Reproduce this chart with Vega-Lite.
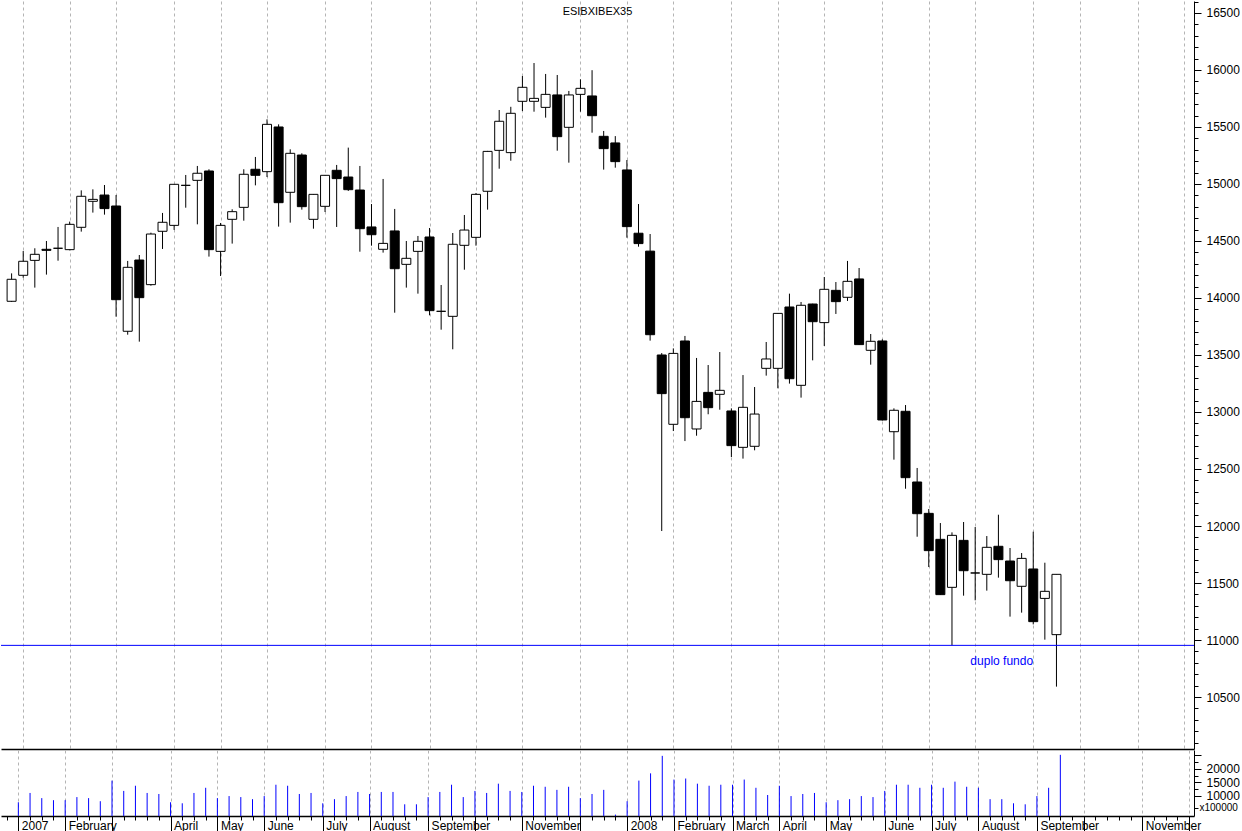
{
  "$schema": "https://vega.github.io/schema/vega-lite/v6.json",
  "background": "white",
  "padding": 0,
  "config": {
    "view": {"stroke": null},
    "concat": {"spacing": 0},
    "font": "Liberation Sans",
    "axis": {"labelFont": "Liberation Sans", "labelFontSize": 12, "labelColor": "black", "tickColor": "black", "domainColor": "black", "labelOverlap": false}
  },
  "datasets": {
    "weeks": [
      {"date": "2006/12/29", "open": 13971, "high": 14216, "low": 13965, "close": 14164, "volume": null},
      {"date": "2007/01/05", "open": 14199, "high": 14412, "low": 14178, "close": 14322, "volume": 7600},
      {"date": "2007/01/12", "open": 14330, "high": 14436, "low": 14091, "close": 14383, "volume": 11050},
      {"date": "2007/01/19", "open": 14427, "high": 14500, "low": 14205, "close": 14418, "volume": 9140},
      {"date": "2007/01/26", "open": 14436, "high": 14623, "low": 14327, "close": 14436, "volume": 8370},
      {"date": "2007/02/02", "open": 14424, "high": 14670, "low": 14418, "close": 14646, "volume": 8370},
      {"date": "2007/02/09", "open": 14620, "high": 14944, "low": 14582, "close": 14892, "volume": 9520},
      {"date": "2007/02/16", "open": 14848, "high": 14953, "low": 14749, "close": 14865, "volume": 9140},
      {"date": "2007/02/23", "open": 14903, "high": 14991, "low": 14731, "close": 14784, "volume": 7990},
      {"date": "2007/03/02", "open": 14807, "high": 14903, "low": 13836, "close": 13985, "volume": 15640},
      {"date": "2007/03/09", "open": 13708, "high": 14325, "low": 13678, "close": 14269, "volume": 11810},
      {"date": "2007/03/16", "open": 14333, "high": 14377, "low": 13617, "close": 14003, "volume": 13730},
      {"date": "2007/03/23", "open": 14117, "high": 14573, "low": 14108, "close": 14561, "volume": 11050},
      {"date": "2007/03/30", "open": 14585, "high": 14746, "low": 14430, "close": 14664, "volume": 10670},
      {"date": "2007/04/06", "open": 14637, "high": 15000, "low": 14597, "close": 14997, "volume": 7600},
      {"date": "2007/04/13", "open": 14988, "high": 15079, "low": 14792, "close": 14988, "volume": 7220},
      {"date": "2007/04/20", "open": 15032, "high": 15158, "low": 14646, "close": 15094, "volume": 11050},
      {"date": "2007/04/27", "open": 15114, "high": 15129, "low": 14363, "close": 14424, "volume": 12970},
      {"date": "2007/05/04", "open": 14409, "high": 14658, "low": 14193, "close": 14637, "volume": 9140},
      {"date": "2007/05/11", "open": 14690, "high": 14778, "low": 14477, "close": 14757, "volume": 9900},
      {"date": "2007/05/18", "open": 14795, "high": 15129, "low": 14678, "close": 15085, "volume": 9520},
      {"date": "2007/05/25", "open": 15129, "high": 15237, "low": 14988, "close": 15076, "volume": 8750},
      {"date": "2007/06/01", "open": 15108, "high": 15567, "low": 15061, "close": 15523, "volume": 9900},
      {"date": "2007/06/08", "open": 15500, "high": 15523, "low": 14626, "close": 14836, "volume": 14110},
      {"date": "2007/06/15", "open": 14927, "high": 15304, "low": 14661, "close": 15269, "volume": 13730},
      {"date": "2007/06/22", "open": 15254, "high": 15269, "low": 14775, "close": 14801, "volume": 10670},
      {"date": "2007/06/29", "open": 14690, "high": 14912, "low": 14608, "close": 14909, "volume": 11050},
      {"date": "2007/07/06", "open": 14804, "high": 15078, "low": 14754, "close": 15076, "volume": 7220},
      {"date": "2007/07/13", "open": 15120, "high": 15167, "low": 14623, "close": 15047, "volume": 8750},
      {"date": "2007/07/20", "open": 15061, "high": 15319, "low": 14939, "close": 14950, "volume": 9900},
      {"date": "2007/07/27", "open": 14947, "high": 15158, "low": 14406, "close": 14608, "volume": 11430},
      {"date": "2007/08/03", "open": 14623, "high": 14824, "low": 14459, "close": 14555, "volume": 10670},
      {"date": "2007/08/10", "open": 14427, "high": 15044, "low": 14398, "close": 14479, "volume": 11430},
      {"date": "2007/08/17", "open": 14588, "high": 14781, "low": 13871, "close": 14257, "volume": 11430},
      {"date": "2007/08/24", "open": 14295, "high": 14500, "low": 14091, "close": 14348, "volume": 6840},
      {"date": "2007/08/31", "open": 14409, "high": 14544, "low": 14038, "close": 14497, "volume": 6840},
      {"date": "2007/09/07", "open": 14535, "high": 14614, "low": 13848, "close": 13889, "volume": 9520},
      {"date": "2007/09/14", "open": 13883, "high": 14114, "low": 13722, "close": 13883, "volume": 11430},
      {"date": "2007/09/21", "open": 13839, "high": 14570, "low": 13550, "close": 14471, "volume": 14110},
      {"date": "2007/09/28", "open": 14462, "high": 14728, "low": 14248, "close": 14596, "volume": 9520},
      {"date": "2007/10/05", "open": 14532, "high": 14921, "low": 14459, "close": 14909, "volume": 11810},
      {"date": "2007/10/12", "open": 14936, "high": 15290, "low": 14775, "close": 15286, "volume": 11050},
      {"date": "2007/10/19", "open": 15295, "high": 15649, "low": 15134, "close": 15550, "volume": 14500},
      {"date": "2007/10/26", "open": 15275, "high": 15677, "low": 15204, "close": 15620, "volume": 11810},
      {"date": "2007/11/02", "open": 15725, "high": 15947, "low": 15640, "close": 15848, "volume": 11430},
      {"date": "2007/11/09", "open": 15725, "high": 16061, "low": 15634, "close": 15751, "volume": 13730},
      {"date": "2007/11/16", "open": 15672, "high": 15965, "low": 15582, "close": 15786, "volume": 13350},
      {"date": "2007/11/23", "open": 15781, "high": 15956, "low": 15292, "close": 15415, "volume": 12200},
      {"date": "2007/11/30", "open": 15497, "high": 15816, "low": 15187, "close": 15781, "volume": 13350},
      {"date": "2007/12/07", "open": 15786, "high": 15918, "low": 15634, "close": 15839, "volume": 9140},
      {"date": "2007/12/14", "open": 15772, "high": 15998, "low": 15450, "close": 15599, "volume": 10670},
      {"date": "2007/12/21", "open": 15418, "high": 15465, "low": 15126, "close": 15310, "volume": 12200},
      {"date": "2007/12/28", "open": 15360, "high": 15420, "low": 15143, "close": 15196, "volume": 3010},
      {"date": "2008/01/04", "open": 15123, "high": 15210, "low": 14529, "close": 14626, "volume": 7990},
      {"date": "2008/01/11", "open": 14568, "high": 14824, "low": 14450, "close": 14477, "volume": 15640},
      {"date": "2008/01/18", "open": 14411, "high": 14561, "low": 13626, "close": 13678, "volume": 18330},
      {"date": "2008/01/25", "open": 13500, "high": 13517, "low": 11956, "close": 13161, "volume": 24830},
      {"date": "2008/02/01", "open": 12892, "high": 13558, "low": 12833, "close": 13514, "volume": 16030},
      {"date": "2008/02/08", "open": 13623, "high": 13667, "low": 12745, "close": 12950, "volume": 16410},
      {"date": "2008/02/15", "open": 12851, "high": 13474, "low": 12792, "close": 13093, "volume": 14500},
      {"date": "2008/02/22", "open": 13172, "high": 13412, "low": 12980, "close": 13038, "volume": 13730},
      {"date": "2008/02/29", "open": 13155, "high": 13526, "low": 13020, "close": 13190, "volume": 14110},
      {"date": "2008/03/07", "open": 13009, "high": 13032, "low": 12605, "close": 12705, "volume": 14110},
      {"date": "2008/03/14", "open": 12690, "high": 13324, "low": 12591, "close": 13041, "volume": 16030},
      {"date": "2008/03/21", "open": 12699, "high": 13219, "low": 12664, "close": 12982, "volume": 12970},
      {"date": "2008/03/28", "open": 13383, "high": 13614, "low": 13319, "close": 13465, "volume": 10290},
      {"date": "2008/04/04", "open": 13383, "high": 13868, "low": 13208, "close": 13865, "volume": 13730},
      {"date": "2008/04/11", "open": 13921, "high": 14038, "low": 13249, "close": 13292, "volume": 9900},
      {"date": "2008/04/18", "open": 13234, "high": 13965, "low": 13126, "close": 13936, "volume": 10670},
      {"date": "2008/04/25", "open": 13947, "high": 13950, "low": 13453, "close": 13792, "volume": 11050},
      {"date": "2008/05/02", "open": 13784, "high": 14184, "low": 13579, "close": 14076, "volume": 7600},
      {"date": "2008/05/09", "open": 14067, "high": 14140, "low": 13860, "close": 13968, "volume": 8370},
      {"date": "2008/05/16", "open": 14006, "high": 14325, "low": 13974, "close": 14146, "volume": 8750},
      {"date": "2008/05/23", "open": 14167, "high": 14263, "low": 13588, "close": 13591, "volume": 9900},
      {"date": "2008/05/30", "open": 13541, "high": 13684, "low": 13415, "close": 13620, "volume": 9520},
      {"date": "2008/06/06", "open": 13623, "high": 13637, "low": 12925, "close": 12930, "volume": 11810},
      {"date": "2008/06/13", "open": 12827, "high": 13032, "low": 12582, "close": 13015, "volume": 14110},
      {"date": "2008/06/20", "open": 13006, "high": 13061, "low": 12327, "close": 12424, "volume": 14110},
      {"date": "2008/06/27", "open": 12386, "high": 12509, "low": 11906, "close": 12108, "volume": 12970},
      {"date": "2008/07/04", "open": 12111, "high": 12149, "low": 11640, "close": 11784, "volume": 14110},
      {"date": "2008/07/11", "open": 11883, "high": 12026, "low": 11395, "close": 11398, "volume": 12970},
      {"date": "2008/07/18", "open": 11462, "high": 11944, "low": 10953, "close": 11918, "volume": 15260},
      {"date": "2008/07/25", "open": 11874, "high": 12035, "low": 11389, "close": 11608, "volume": 13350},
      {"date": "2008/08/01", "open": 11588, "high": 11991, "low": 11348, "close": 11588, "volume": 12970},
      {"date": "2008/08/08", "open": 11576, "high": 11912, "low": 11433, "close": 11813, "volume": 8750},
      {"date": "2008/08/15", "open": 11822, "high": 12099, "low": 11547, "close": 11705, "volume": 8750},
      {"date": "2008/08/22", "open": 11693, "high": 11807, "low": 11205, "close": 11520, "volume": 7220},
      {"date": "2008/08/29", "open": 11471, "high": 11763, "low": 11240, "close": 11716, "volume": 6840},
      {"date": "2008/09/05", "open": 11623, "high": 11950, "low": 11137, "close": 11161, "volume": 9900},
      {"date": "2008/09/12", "open": 11365, "high": 11678, "low": 11003, "close": 11427, "volume": 12970},
      {"date": "2008/09/19", "open": 11047, "high": 11576, "low": 10591, "close": 11576, "volume": 25210}
    ],
    "notes": [
      {"level": 10953, "label": "duplo fundo", "labelDate": "2008/08/17", "labelValue": 10816}
    ]
  },
  "vconcat": [
    {
      "width": 1193,
      "height": 748,
      "title": {"text": "ESIBXIBEX35", "offset": -16, "fontSize": 11, "fontWeight": "normal", "font": "Liberation Sans", "color": "black", "anchor": "middle", "frame": "group"},
      "data": {"name": "weeks"},
      "layer": [
        {
          "mark": {"type": "rule", "color": "black", "strokeWidth": 1},
          "encoding": {
            "x": {
              "field": "date", "type": "temporal",
              "scale": {"domain": [{"year": 2006, "month": 12, "date": 25, "hours": 15}, {"year": 2008, "month": 12, "date": 7, "hours": 22}]},
              "axis": {
                "orient": "bottom", "title": null, "labels": false, "ticks": false, "tickCount": 1000,
                "domain": true, "domainColor": "black", "domainWidth": 1.5,
                "grid": true, "gridColor": "#b4b4b4", "gridDash": [3, 3], "gridWidth": 1,
                "values": [
                  {"year": 2007, "month": 1, "date": 5}, {"year": 2007, "month": 2, "date": 2}, {"year": 2007, "month": 3, "date": 2},
                  {"year": 2007, "month": 4, "date": 6}, {"year": 2007, "month": 5, "date": 4}, {"year": 2007, "month": 6, "date": 1},
                  {"year": 2007, "month": 7, "date": 6}, {"year": 2007, "month": 8, "date": 3}, {"year": 2007, "month": 9, "date": 7},
                  {"year": 2007, "month": 10, "date": 5}, {"year": 2007, "month": 11, "date": 2}, {"year": 2007, "month": 12, "date": 7},
                  {"year": 2008, "month": 1, "date": 4}, {"year": 2008, "month": 2, "date": 1}, {"year": 2008, "month": 3, "date": 7},
                  {"year": 2008, "month": 4, "date": 4}, {"year": 2008, "month": 5, "date": 2}, {"year": 2008, "month": 6, "date": 6},
                  {"year": 2008, "month": 7, "date": 4}, {"year": 2008, "month": 8, "date": 1}, {"year": 2008, "month": 9, "date": 5},
                  {"year": 2008, "month": 10, "date": 3}, {"year": 2008, "month": 11, "date": 7}, {"year": 2008, "month": 12, "date": 5}
                ]
              }
            },
            "y": {
              "field": "low", "type": "quantitative",
              "scale": {"domain": [10044, 16605], "zero": false, "nice": false},
              "axis": {
                "orient": "right", "title": null, "grid": false, "format": "d", "tickCount": 1000,
                "values": [10100, 10200, 10300, 10400, 10500, 10600, 10700, 10800, 10900, 11000, 11100, 11200, 11300, 11400, 11500, 11600, 11700, 11800, 11900, 12000, 12100, 12200, 12300, 12400, 12500, 12600, 12700, 12800, 12900, 13000, 13100, 13200, 13300, 13400, 13500, 13600, 13700, 13800, 13900, 14000, 14100, 14200, 14300, 14400, 14500, 14600, 14700, 14800, 14900, 15000, 15100, 15200, 15300, 15400, 15500, 15600, 15700, 15800, 15900, 16000, 16100, 16200, 16300, 16400, 16500, 16600],
                "labelExpr": "datum.value % 500 == 0 ? datum.label : ''",
                "labelFontSize": {"condition": {"test": "datum.value % 500 == 0", "value": 12}, "value": 1},
                "tickSize": {"condition": {"test": "datum.value % 500 == 0", "value": 7}, "value": 4},
                "labelPadding": 5, "labelOverlap": false, "labelBound": false, "labelFlush": false,
                "domainColor": "black", "tickColor": "black"
              }
            },
            "y2": {"field": "high"}
          }
        },
        {
          "mark": {"type": "bar", "width": 9, "stroke": "black", "strokeWidth": 1},
          "encoding": {
            "x": {"field": "date", "type": "temporal"},
            "y": {"field": "open", "type": "quantitative"},
            "y2": {"field": "close"},
            "fill": {"condition": {"test": "datum.close < datum.open", "value": "black"}, "value": "white"}
          }
        },
        {
          "data": {"name": "notes"},
          "mark": {"type": "rule", "color": "#0000ff", "strokeWidth": 1},
          "encoding": {"y": {"field": "level", "type": "quantitative"}}
        },
        {
          "data": {"name": "notes"},
          "mark": {"type": "text", "color": "#0000ff", "fontSize": 12, "font": "Liberation Sans", "align": "center", "baseline": "middle"},
          "encoding": {
            "x": {"field": "labelDate", "type": "temporal"},
            "y": {"field": "labelValue", "type": "quantitative"},
            "text": {"field": "label"}
          }
        }
      ]
    },
    {
      "width": 1193,
      "height": 66,
      "data": {"name": "weeks"},
      "mark": {"type": "rule", "color": "#0000ff", "strokeWidth": 1},
      "encoding": {
        "x": {
          "field": "date", "type": "temporal",
          "scale": {"domain": [{"year": 2006, "month": 12, "date": 25, "hours": 15}, {"year": 2008, "month": 12, "date": 7, "hours": 22}]},
          "axis": {
            "orient": "bottom", "title": null, "tickCount": 1000,
            "domain": true, "domainColor": "black", "domainWidth": 1.5,
            "grid": true, "gridDash": [3, 3], "gridWidth": 1,
            "gridColor": {"condition": {"test": "date(datum.value) <= 7", "value": "#b4b4b4"}, "value": "transparent"},
            "tickSize": {"condition": {"test": "date(datum.value) <= 7", "value": 16}, "value": 4},
            "tickColor": "black",
            "labelExpr": "date(datum.value) > 7 || month(datum.value) == 9 || month(datum.value) == 11 || (year(datum.value) == 2007 && month(datum.value) == 2) ? '' : (month(datum.value) == 0 ? timeFormat(datum.value, '%Y') : timeFormat(datum.value, '%B'))",
            "labelAlign": "left", "labelBaseline": "top", "labelOffset": 3, "labelPadding": -12,
            "labelOverlap": false, "labelBound": false, "labelFlush": false,
            "values": [
              {"year": 2006, "month": 12, "date": 29},
              {"year": 2007, "month": 1, "date": 5}, {"year": 2007, "month": 1, "date": 12}, {"year": 2007, "month": 1, "date": 19}, {"year": 2007, "month": 1, "date": 26},
              {"year": 2007, "month": 2, "date": 2}, {"year": 2007, "month": 2, "date": 9}, {"year": 2007, "month": 2, "date": 16}, {"year": 2007, "month": 2, "date": 23},
              {"year": 2007, "month": 3, "date": 2}, {"year": 2007, "month": 3, "date": 9}, {"year": 2007, "month": 3, "date": 16}, {"year": 2007, "month": 3, "date": 23}, {"year": 2007, "month": 3, "date": 30},
              {"year": 2007, "month": 4, "date": 6}, {"year": 2007, "month": 4, "date": 13}, {"year": 2007, "month": 4, "date": 20}, {"year": 2007, "month": 4, "date": 27},
              {"year": 2007, "month": 5, "date": 4}, {"year": 2007, "month": 5, "date": 11}, {"year": 2007, "month": 5, "date": 18}, {"year": 2007, "month": 5, "date": 25},
              {"year": 2007, "month": 6, "date": 1}, {"year": 2007, "month": 6, "date": 8}, {"year": 2007, "month": 6, "date": 15}, {"year": 2007, "month": 6, "date": 22}, {"year": 2007, "month": 6, "date": 29},
              {"year": 2007, "month": 7, "date": 6}, {"year": 2007, "month": 7, "date": 13}, {"year": 2007, "month": 7, "date": 20}, {"year": 2007, "month": 7, "date": 27},
              {"year": 2007, "month": 8, "date": 3}, {"year": 2007, "month": 8, "date": 10}, {"year": 2007, "month": 8, "date": 17}, {"year": 2007, "month": 8, "date": 24}, {"year": 2007, "month": 8, "date": 31},
              {"year": 2007, "month": 9, "date": 7}, {"year": 2007, "month": 9, "date": 14}, {"year": 2007, "month": 9, "date": 21}, {"year": 2007, "month": 9, "date": 28},
              {"year": 2007, "month": 10, "date": 5}, {"year": 2007, "month": 10, "date": 12}, {"year": 2007, "month": 10, "date": 19}, {"year": 2007, "month": 10, "date": 26},
              {"year": 2007, "month": 11, "date": 2}, {"year": 2007, "month": 11, "date": 9}, {"year": 2007, "month": 11, "date": 16}, {"year": 2007, "month": 11, "date": 23}, {"year": 2007, "month": 11, "date": 30},
              {"year": 2007, "month": 12, "date": 7}, {"year": 2007, "month": 12, "date": 14}, {"year": 2007, "month": 12, "date": 21}, {"year": 2007, "month": 12, "date": 28},
              {"year": 2008, "month": 1, "date": 4}, {"year": 2008, "month": 1, "date": 11}, {"year": 2008, "month": 1, "date": 18}, {"year": 2008, "month": 1, "date": 25},
              {"year": 2008, "month": 2, "date": 1}, {"year": 2008, "month": 2, "date": 8}, {"year": 2008, "month": 2, "date": 15}, {"year": 2008, "month": 2, "date": 22}, {"year": 2008, "month": 2, "date": 29},
              {"year": 2008, "month": 3, "date": 7}, {"year": 2008, "month": 3, "date": 14}, {"year": 2008, "month": 3, "date": 21}, {"year": 2008, "month": 3, "date": 28},
              {"year": 2008, "month": 4, "date": 4}, {"year": 2008, "month": 4, "date": 11}, {"year": 2008, "month": 4, "date": 18}, {"year": 2008, "month": 4, "date": 25},
              {"year": 2008, "month": 5, "date": 2}, {"year": 2008, "month": 5, "date": 9}, {"year": 2008, "month": 5, "date": 16}, {"year": 2008, "month": 5, "date": 23}, {"year": 2008, "month": 5, "date": 30},
              {"year": 2008, "month": 6, "date": 6}, {"year": 2008, "month": 6, "date": 13}, {"year": 2008, "month": 6, "date": 20}, {"year": 2008, "month": 6, "date": 27},
              {"year": 2008, "month": 7, "date": 4}, {"year": 2008, "month": 7, "date": 11}, {"year": 2008, "month": 7, "date": 18}, {"year": 2008, "month": 7, "date": 25},
              {"year": 2008, "month": 8, "date": 1}, {"year": 2008, "month": 8, "date": 8}, {"year": 2008, "month": 8, "date": 15}, {"year": 2008, "month": 8, "date": 22}, {"year": 2008, "month": 8, "date": 29},
              {"year": 2008, "month": 9, "date": 5}, {"year": 2008, "month": 9, "date": 12}, {"year": 2008, "month": 9, "date": 19}, {"year": 2008, "month": 9, "date": 26},
              {"year": 2008, "month": 10, "date": 3}, {"year": 2008, "month": 10, "date": 10}, {"year": 2008, "month": 10, "date": 17}, {"year": 2008, "month": 10, "date": 24}, {"year": 2008, "month": 10, "date": 31},
              {"year": 2008, "month": 11, "date": 7}, {"year": 2008, "month": 11, "date": 14}, {"year": 2008, "month": 11, "date": 21}, {"year": 2008, "month": 11, "date": 28},
              {"year": 2008, "month": 12, "date": 5}
            ]
          }
        },
        "y": {
          "field": "volume", "type": "quantitative",
          "scale": {"domain": [2500, 27000], "zero": false, "nice": false},
          "axis": {
            "orient": "right", "title": null, "grid": false, "format": "d", "tickCount": 1000,
            "values": [5600, 10000, 12500, 15000, 17500, 20000, 22500, 25000],
            "labelExpr": "datum.value == 5600 ? 'x100000' : (datum.value % 5000 == 0 && datum.value < 25000 ? datum.label : '')",
            "labelFontSize": {"condition": {"test": "datum.value == 5600", "value": 10}, "value": 12},
            "labelPadding": {"condition": {"test": "datum.value == 5600", "value": 1}, "value": 5},
            "tickSize": {"condition": {"test": "datum.value % 5000 == 0", "value": 7}, "value": 4},
            "labelOverlap": false, "labelBound": false, "labelFlush": false,
            "domainColor": "black", "tickColor": "black"
          }
        },
        "y2": {"datum": 2500}
      }
    }
  ]
}
